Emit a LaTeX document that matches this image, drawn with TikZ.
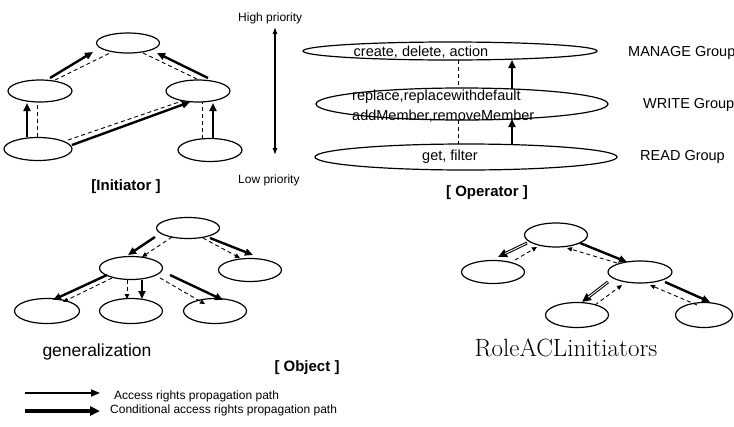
\documentclass[tikz,border=0pt]{standalone}
\usepackage{fontspec}
\newfontfamily\arial{Liberation Sans}
\usetikzlibrary{shapes.geometric,arrows.meta,calc}
\tikzset{
  ell/.style={draw, ellipse, line width=1.2pt, inner sep=0pt},
  lbl/.style={font=\arial\fontsize{14.5}{16}\selectfont, inner sep=0pt},
  small/.style={font=\arial\fontsize{12}{14}\selectfont, inner sep=0pt},
  ttl/.style={font=\arial\bfseries\fontsize{15}{17}\selectfont, inner sep=0pt},
  sarr/.style={line width=2.4pt, -{Triangle[length=8pt,width=7pt]}},
  dsh/.style={line width=0.9pt, dash pattern=on 4pt off 3pt},
  darr/.style={dsh, -{Triangle[length=5pt,width=4.5pt]}},
  dbl/.style={line width=3pt, -{Triangle[length=9pt,width=8pt]}},
  dblin/.style={line width=0.9pt, white, shorten >=8pt, shorten <=0.6pt},
}
\begin{document}
\begin{tikzpicture}[x=1pt,y=-1pt]
\fill[white] (0,0) rectangle (734,426);
\useasboundingbox (0,0) rectangle (734,426);

% ---------- Initiator ----------
\node[ell, minimum width=63pt, minimum height=20pt] (i1) at (128,43) {};
\node[ell, minimum width=64pt, minimum height=22pt] (i2) at (40,91) {};
\node[ell, minimum width=64pt, minimum height=22pt] (i3) at (198,91) {};
\node[ell, minimum width=68pt, minimum height=23pt] (i4) at (38,149) {};
\node[ell, minimum width=64pt, minimum height=23pt] (i5) at (210,150) {};

\draw[sarr] ($(i2)+(10,-13)$) -- ($(i1)+(-35,9)$);
\draw[dsh]  ($(i2)+(15,-11)$) -- ($(i1)+(-18,10)$);
\draw[sarr] ($(i3)+(10,-13)$) -- ($(i1)+(29,10)$);
\draw[dsh]  ($(i3)+(-1,-12)$) -- ($(i1)+(15,10)$);
\draw[sarr] ($(i4)+(-11,-12)$) -- ($(i2)+(-13,12)$);
\draw[dsh]  ($(i4)+(-1,-12)$) -- ($(i2)+(-3,11)$);
\draw[sarr] ($(i5)+(3,-11)$) -- ($(i3)+(15,12)$);
\draw[dsh]  ($(i5)+(-8,-11)$) -- ($(i3)+(4,11)$);
\draw[sarr] ($(i4)+(34,-4)$) -- ($(i3)+(-8,11)$);
\draw[dsh]  ($(i4)+(30,-9)$) -- ($(i3)+(-13,9)$);

\node[ttl] (tinit) at (126,187) {[Initiator ]};

% ---------- Priority ----------
\node[small, anchor=west] (hp) at (238,18) {High priority};
\node[small, anchor=west] (lp) at (238,180) {Low priority};
\coordinate (pa) at (275,27);
\coordinate (pb) at (275,155);
\draw[line width=1.1pt, {Latex[length=7pt,width=5pt]}-{Latex[length=7pt,width=5pt]}] (pa) -- (pb);

% ---------- Operator ----------
\node[ell, minimum width=294pt, minimum height=18pt] (om) at (450,51) {};
\node[ell, minimum width=292pt, minimum height=32pt] (ow) at (462,104) {};
\node[ell, minimum width=302pt, minimum height=26pt] (ord) at (466,157) {};

\node[lbl] (tm) at (421,52) {create, delete, action};
\node[lbl, anchor=west] (tw1) at (352,97) {replace,replacewithdefault};
\node[lbl, anchor=west] (tw2) at (352,116) {addMember,removeMember};
\node[lbl] (tr) at (450,157) {get, filter};

\draw[dsh] ($(om)+(8,9)$) -- ($(ow)+(-4,-16)$);
\draw[sarr] ($(ow)+(50,-15)$) -- ($(om)+(62,9)$);
\draw[dsh] ($(ow)+(-4,16)$) -- ($(ord)+(-8,-13)$);
\draw[sarr] ($(ord)+(46,-13)$) -- ($(ow)+(50,15)$);

\node[lbl, anchor=west] (gm) at (628,53) {MANAGE Group};
\node[lbl, anchor=west] (gw) at (643,105) {WRITE Group};
\node[lbl, anchor=west] (gr) at (640,157) {READ Group};

\node[ttl] (top) at (487,193) {[ Operator ]};

% ---------- Object: generalization ----------
\node[ell, minimum width=63pt, minimum height=21pt] (ot) at (188,228) {};
\node[ell, minimum width=63pt, minimum height=23pt] (ol) at (131,268) {};
\node[ell, minimum width=63pt, minimum height=23pt] (orr) at (250,270) {};
\node[ell, minimum width=65pt, minimum height=25pt] (ob1) at (47,311) {};
\node[ell, minimum width=63pt, minimum height=25pt] (ob2) at (131,311) {};
\node[ell, minimum width=63pt, minimum height=25pt] (ob3) at (215,311) {};

\draw[sarr] ($(ot)+(-33,9)$) -- ($(ol)+(-3,-13)$);
\draw[darr] ($(ot)+(-16,9)$) -- ($(ol)+(11,-11)$);
\draw[sarr] ($(ot)+(22,10)$) -- ($(orr)+(3,-15)$);
\draw[darr] ($(ot)+(15,10)$) -- ($(orr)+(-10,-12)$);
\draw[sarr] ($(ol)+(-24,7)$) -- ($(ob1)+(6,-11)$);
\draw[darr] ($(ol)+(-19,10)$) -- ($(ob1)+(16,-9)$);
\draw[darr] ($(ol)+(-4,12)$) -- ($(ob2)+(-4,-12)$);
\draw[sarr] ($(ol)+(11,12)$) -- ($(ob2)+(11,-12)$);
\draw[sarr] ($(ol)+(39,7)$) -- ($(ob3)+(8,-11)$);
\draw[darr] ($(ol)+(29,10)$) -- ($(ob3)+(-10,-7)$);

\node[font=\arial\fontsize{17.5}{19}\selectfont, inner sep=0pt] (tgen) at (97,352) {generalization};
\node[ttl] (tobj) at (307,368) {[ Object ]};

% ---------- Object: RoleACL initiators ----------
\node[ell, minimum width=63pt, minimum height=24pt] (rt) at (556,235) {};
\node[ell, minimum width=63pt, minimum height=23pt] (rl) at (493,272) {};
\node[ell, minimum width=64pt, minimum height=22pt] (rr) at (640,272) {};
\node[ell, minimum width=63pt, minimum height=25pt] (rb1) at (577,315) {};
\node[ell, minimum width=57pt, minimum height=25pt] (rb2) at (704,315) {};

\draw[dbl] ($(rt)+(-29,8)$) -- ($(rl)+(5,-15)$);
\draw[dblin] ($(rt)+(-29,8)$) -- ($(rl)+(5,-15)$);
\draw[darr] ($(rl)+(22,-12)$) -- ($(rt)+(-19,12)$);
\draw[sarr] ($(rt)+(24,8)$) -- ($(rr)+(-13,-10)$);
\draw[darr] ($(rr)+(-23,-9)$) -- ($(rt)+(11,13)$);
\draw[dbl] ($(rr)+(-32,10)$) -- ($(rb1)+(5,-13)$);
\draw[dblin] ($(rr)+(-32,10)$) -- ($(rb1)+(5,-13)$);
\draw[darr] ($(rb1)+(18,-10)$) -- ($(rr)+(-18,13)$);
\draw[sarr] ($(rr)+(25,10)$) -- ($(rb2)+(6,-13)$);
\draw[darr] ($(rb2)+(-7,-10)$) -- ($(rr)+(10,13)$);

\node[font=\fontsize{25}{28}\selectfont, inner sep=0pt] (trole) at (566,348) {RoleACLinitiators};

% ---------- Legend ----------
\coordinate (l1a) at (25,393);
\coordinate (l1b) at (100,393);
\coordinate (l2a) at (25,411);
\coordinate (l2b) at (100,411);
\draw[line width=1.8pt, -{Triangle[length=9pt,width=7pt]}] (l1a) -- (l1b);
\draw[line width=3.4pt, -{Triangle[length=10pt,width=9pt]}] (l2a) -- (l2b);
\node[small, anchor=west] (lt1) at (114,396) {Access rights propagation path};
\node[small, anchor=west] (lt2) at (110,410) {Conditional access rights propagation path};
\end{tikzpicture}
\end{document}
